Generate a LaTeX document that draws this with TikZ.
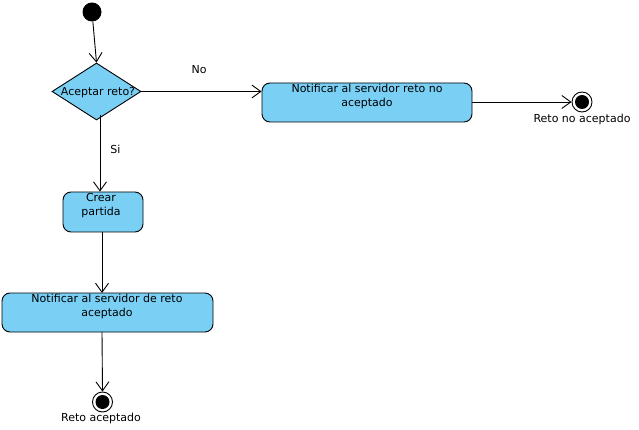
\documentclass[tikz,border=0pt]{standalone}
\usepackage{fontspec}
\setmainfont{DejaVu Sans}
\usetikzlibrary{arrows.meta,shapes.geometric}
\definecolor{actfill}{RGB}{122,207,245}
\begin{document}
\begin{tikzpicture}[x=1pt,y=-1pt,
  every node/.style={font=\fontsize{11}{14}\selectfont, inner sep=0pt},
  action/.style={draw, fill=actfill, rounded corners=8pt, line width=0.9pt},
  flow/.style={draw, line width=0.9pt, -{Straight Barb[length=9pt,width=13pt,line width=0.9pt]}}
]
\useasboundingbox (0,0) rectangle (639,430);
% initial
\node[circle, fill=black, minimum size=19pt] (init) at (92,12) {};
% decision
\node[diamond, draw, fill=actfill, line width=0.9pt, minimum width=89pt, minimum height=57pt, aspect=1.56] (dec) at (96.5,91.5) {};
\node[anchor=center] (dectxt) at (98,93) {Aceptar reto?};
% action boxes
\node[action, minimum width=210pt, minimum height=39pt] (notno) at (367,102.5) {};
\node[align=center] (notnotxt) at (367,96) {Notificar al servidor reto no\\aceptado};
\node[action, minimum width=80pt, minimum height=40pt] (crear) at (103,212) {};
\node[align=center] (creartxt) at (101,206) {Crear\\partida};
\node[action, minimum width=211pt, minimum height=39pt] (notsi) at (107.5,312.5) {};
\node[align=center] (notsitxt) at (107,306) {Notificar al servidor de reto\\aceptado};
% final nodes
\node[circle, draw, line width=0.9pt, minimum size=20pt] (fin1) at (582,102) {};
\node[circle, fill=black, minimum size=14pt] (fin1in) at (fin1) {};
\node (fin1lbl) at (582,119) {Reto no aceptado};
\node[circle, draw, line width=0.9pt, minimum size=20pt] (fin2) at (102.5,402) {};
\node[circle, fill=black, minimum size=14pt] (fin2in) at (fin2) {};
\node (fin2lbl) at (101,418) {Reto aceptado};
% connectors
\coordinate (decb) at (100,115);
\draw[flow] (init) -- (dec.north);
\draw[flow] (dec.east) -- node[above=17pt, pos=0.48] (nolbl) {No} (notno.west |- dec.east);
\draw[flow] (notno.east |- fin1) -- (fin1.west);
\draw[flow] (decb) -- node[right=10pt, pos=0.45] (silbl) {Si} (decb |- crear.north);
\draw[flow] (crear.south -| 102,0) -- (102,293);
\draw[flow] (102,332) -- (fin2.north);
\end{tikzpicture}
\end{document}
